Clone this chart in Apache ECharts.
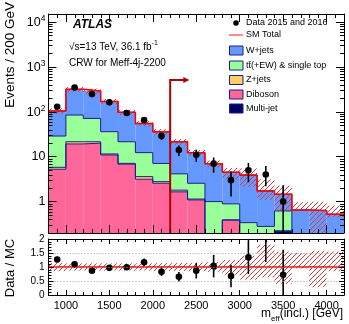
<!DOCTYPE html>
<html><head><meta charset="utf-8">
<script src="https://cdn.jsdelivr.net/npm/echarts@6/dist/echarts.min.js"></script>
<style>html,body{margin:0;padding:0;background:#fff}#c{width:349px;height:324px}</style>
</head><body><div id="c"></div>
<script>
// ---------------- data ----------------
const binLow   = [800,1000,1200,1400,1600,1800,2000,2200,2400,2600,2800,3000,3200,3400,3600,3800,4000];
const binWidth = 200;
const multijet = [0,0,0,0,0,0,0,0,0,0,0,0,0,0.22,0,0,0];
const diboson  = [5.25,19.2,20,10.9,6.8,3.15,2.56,1.65,1.09,0,0.39,0,0,0,0,0,0];
const zjets    = [0.55,2.3,1.5,0.6,0.3,0.45,0.22,0.15,0.05,0,0,0,0,0,0,0,0];
const ttbar    = [23.0,63,49.5,24.5,14.4,8.7,4.3,2.35,1.42,1.0,0.5,0.34,0.28,0.40,0,0,0];
const wjets    = [75.2,230.5,219,134,75.5,42.7,28.9,17.35,9.74,6.0,3.61,3.56,1.45,0.84,0.65,0.63,0.525];
const bandLo   = [0.85,0.87,0.87,0.87,0.87,0.87,0.86,0.86,0.85,0.83,0.72,0.55,0.63,0.40,0.95,0.28,0.85];
const bandHi   = [1.15,1.13,1.13,1.13,1.13,1.13,1.14,1.14,1.15,1.17,1.25,1.40,1.80,1.55,1.50,1.58,1.55];
const dataX     = [900,1100,1300,1500,1700,1900,2100,2300,2500,2700,2900,3100,3300,3500];
const dataY     = [129,348,247,162,94,65,29,14,11,7,3,5,4,1];
const dataErrUp = [11,19,16,13,10,8,5.4,3.7,3.3,2.6,1.7,2.3,2.2,1.3];
const dataErrDn = [11,19,16,13,10,8,5.4,3.7,3.3,2.6,1.7,2.3,1.8,0.9];
const ratioY    = [1.27,1.10,0.87,0.97,0.99,1.17,0.83,0.65,0.87,1.03,0.68,1.35,2.35,0.72];
const ratioErr  = [0.10,0.06,0.05,0.06,0.08,0.13,0.15,0.17,0.28,0.40,0.40,0.60,1.17,0.90];
const yMainTicks      = [1,10,100,1000,10000];
const yMainTickLabels = ['1','10','10^2','10^3','10^4'];
const cutValue = 2200, arrowTop = 506, arrowEnd = 2420;
const legendNames = ['Data 2015 and 2016','SM Total','W+jets','tt\u0304(+EW) & single top','Z+jets','Diboson','Multi-jet'];

// ---------------- setup ----------------
const FONT = '"Liberation Sans", Arial, Helvetica, sans-serif';
const YMIN = 0.2, YMAX = 15000;
const comps  = [multijet, diboson, zjets, ttbar, wjets];
const colors = ['#000066','#ff6699','#ffcc66','#99ff99','#6699ff'];
const OUTLINE = '#1c1c8c';
const HATCH_COL = '#d23c3c';

const cum = []; let run = binLow.map(()=>0);
comps.forEach(c => { const lo = run.slice(); run = run.map((v,i)=>v+c[i]); cum.push({lo, hi: run.slice()}); });
const total = run;

function hatchLines(x0,y0,w,h){
  const s=5, ch=[];
  const start=Math.ceil((x0+y0)/s)*s;
  for(let c=start;c<=x0+w+y0+h;c+=s){
    const xa=Math.max(x0,c-y0-h), xb=Math.min(x0+w,c-y0);
    if(xb>xa) ch.push({type:'line',shape:{x1:xa,y1:c-xa,x2:xb,y2:c-xb},style:{stroke:HATCH_COL,lineWidth:1}});
  }
  return {type:'group',children:ch};
}

function stepData(vals, floor){
  const d=[]; vals.forEach((v,i)=>{ const y=Math.max(v,floor); d.push([binLow[i],y],[binLow[i]+binWidth,y]); }); return d;
}

const series = [];
comps.forEach((c,k)=>{
  series.push({type:'custom', xAxisIndex:0, yAxisIndex:0, z:2, silent:true,
    data: binLow.map((x,i)=>[x, Math.max(cum[k].lo[i],0.01), Math.max(cum[k].hi[i],0.01)]),
    renderItem:(p,api)=>{
      const x=api.value(0), lo=api.value(1), hi=api.value(2);
      if(!(hi>lo) || hi<=YMIN) return null;
      const a=api.coord([x,Math.max(lo,YMIN)]), b=api.coord([x+binWidth,hi]);
      return {type:'rect', shape:{x:a[0],y:b[1],width:b[0]-a[0],height:a[1]-b[1]}, style:{fill:colors[k]}};
    }});
});
comps.forEach((c,k)=>{
  series.push({type:'line', xAxisIndex:0, yAxisIndex:0, z:3, silent:true, symbol:'none', clip:true,
    data: stepData(cum[k].hi, 0.05), lineStyle:{color: k===0?'#000066':OUTLINE, width:1}});
});
series.push({type:'custom', xAxisIndex:0, yAxisIndex:0, z:4, silent:true,
  data: binLow.map((x,i)=>[x, total[i]*bandLo[i], total[i]*bandHi[i]]),
  renderItem:(p,api)=>{
    const x=api.value(0), lo=api.value(1), hi=api.value(2);
    const a=api.coord([x,Math.max(lo,YMIN)]), b=api.coord([x+binWidth,hi]);
    return hatchLines(a[0],b[1],b[0]-a[0],a[1]-b[1]);
  }});
series.push({type:'line', xAxisIndex:0, yAxisIndex:0, z:5, silent:true, symbol:'none',
  data: stepData(total, 0.05), lineStyle:{color:'#ff0000', width:1.5}});
series.push({type:'custom', xAxisIndex:0, yAxisIndex:0, z:6, silent:true,
  data:[[cutValue, arrowTop, arrowEnd]],
  renderItem:(p,api)=>{
    const c=p.coordSys;
    const top=api.coord([api.value(0),api.value(1)]), end=api.coord([api.value(2),api.value(1)]);
    const bot=c.y+c.height;
    return {type:'group',children:[
      {type:'polyline',shape:{points:[[top[0],bot],[top[0],top[1]],[end[0]-4,top[1]]]},style:{stroke:'#b00000',lineWidth:2,fill:null}},
      {type:'polygon',shape:{points:[[end[0]-6,top[1]-3],[end[0],top[1]],[end[0]-6,top[1]+3]]},style:{fill:'#b00000'}}
    ]};
  }});
series.push({type:'custom', xAxisIndex:0, yAxisIndex:0, z:7, silent:true,
  data: dataX.map((x,i)=>[x,dataY[i],dataErrUp[i],dataErrDn[i]]),
  renderItem:(p,api)=>{
    const c=p.coordSys; const x=api.value(0),y=api.value(1),eu=api.value(2),ed=api.value(3);
    const pc=api.coord([x,y]); const top=api.coord([x,y+eu])[1];
    const bot=(y-ed>YMIN)?api.coord([x,y-ed])[1]:c.y+c.height;
    return {type:'group',children:[
      {type:'line',shape:{x1:pc[0],y1:top,x2:pc[0],y2:bot},style:{stroke:'#000',lineWidth:1.6}},
      {type:'circle',shape:{cx:pc[0],cy:pc[1],r:3.3},style:{fill:'#000'}}]};
  }});
const logMinor=[]; for(let e=-1;e<=4;e++) for(let m=2;m<=9;m++){const v=m*Math.pow(10,e); if(v>YMIN*1.001&&v<YMAX) logMinor.push([800,v]);}
series.push({type:'custom', xAxisIndex:0, yAxisIndex:0, z:20, silent:true, data:logMinor,
  renderItem:(p,api)=>{const c=p.coordSys; const y=Math.round(api.coord([800,api.value(1)])[1])+0.5;
    return {type:'group',children:[
      {type:'line',shape:{x1:c.x,y1:y,x2:c.x+4,y2:y},style:{stroke:'#000',lineWidth:1}},
      {type:'line',shape:{x1:c.x+c.width-4,y1:y,x2:c.x+c.width,y2:y},style:{stroke:'#000',lineWidth:1}}]};}});
const xMinor=[]; for(let x=900;x<4200;x+=100){ if(x%500!==0) xMinor.push(x); }
[[0,0,1,4],[2,2,1,3]].forEach(([xi,yi,yref,len])=>{
  series.push({type:'custom', xAxisIndex:xi, yAxisIndex:yi, z:20, silent:true, data:xMinor.map(x=>[x,yref]),
    renderItem:(p,api)=>{const c=p.coordSys; const x=Math.round(api.coord([api.value(0),api.value(1)])[0])+0.5;
      return {type:'group',children:[
        {type:'line',shape:{x1:x,y1:c.y+c.height,x2:x,y2:c.y+c.height-len},style:{stroke:'#000',lineWidth:1}},
        {type:'line',shape:{x1:x,y1:c.y,x2:x,y2:c.y+len},style:{stroke:'#000',lineWidth:1}}]};}});
});
series.push({type:'custom', xAxisIndex:2, yAxisIndex:2, z:3, silent:true,
  data: binLow.map((x,i)=>[x,bandLo[i],bandHi[i]]),
  renderItem:(p,api)=>{const x=api.value(0);
    const a=api.coord([x,Math.max(api.value(1),0)]), b=api.coord([x+binWidth,Math.min(api.value(2),2)]);
    return hatchLines(a[0],b[1],b[0]-a[0],a[1]-b[1]);}});
series.push({type:'line', xAxisIndex:2, yAxisIndex:2, z:4, silent:true, symbol:'none',
  data:[[800,1],[4200,1]], lineStyle:{color:'#ff0000',width:1.5}});
series.push({type:'custom', xAxisIndex:2, yAxisIndex:2, z:6, silent:true,
  data: dataX.map((x,i)=>[x,ratioY[i],ratioErr[i]]),
  renderItem:(p,api)=>{const c=p.coordSys; const x=api.value(0),y=api.value(1),e=api.value(2);
    const clamp=v=>Math.max(c.y,Math.min(c.y+c.height,v));
    const pc=api.coord([x,y]); const t=clamp(api.coord([x,y+e])[1]), b=clamp(api.coord([x,y-e])[1]);
    const ch=[{type:'line',shape:{x1:pc[0],y1:t,x2:pc[0],y2:b},style:{stroke:'#000',lineWidth:1.6}}];
    if(pc[1]>=c.y && pc[1]<=c.y+c.height) ch.push({type:'circle',shape:{cx:pc[0],cy:pc[1],r:3.3},style:{fill:'#000'}});
    return {type:'group',children:ch};}});

const axisBase = {axisLine:{show:true,onZero:false,lineStyle:{color:'#000',width:1}}, z:10, splitLine:{show:false}};
function xAx(grid,pos,labels,tickLen){
  return Object.assign({}, axisBase, {type:'value', gridIndex:grid, position:pos, min:800, max:4200,
    axisTick:{show:true,inside:true,length:tickLen,lineStyle:{color:'#000'}},
    axisLabel:{show:labels, interval:0, showMinLabel:false, showMaxLabel:false, color:'#000', fontFamily:FONT, fontSize:11, margin:5,
      formatter:v=>String(v)}});
}
function yMainFmt(v){
  const e=Math.log10(v); const i=yMainTicks.findIndex(t=>Math.abs(Math.log10(t)-e)<1e-6);
  if(i<0) return ''; const s=yMainTickLabels[i];
  if(s.indexOf('^')>=0){const [b,x]=s.split('^'); return '{b|'+b+'}{s|'+x+'}';}
  return '{b|'+s+'}';
}
function yMain(pos,labels){
  return Object.assign({}, axisBase, {type:'log', logBase:10, gridIndex:0, position:pos, min:YMIN, max:YMAX,
    axisTick:{show:true,inside:true,length:8,lineStyle:{color:'#000'}}, minorTick:{show:false},
    axisLabel:{show:labels, interval:0, showMinLabel:false, showMaxLabel:false, formatter:yMainFmt, margin:3,
      rich:{b:{fontFamily:FONT,fontSize:12.5,color:'#000',verticalAlign:'bottom'},
            s:{fontFamily:FONT,fontSize:8.5,color:'#000',verticalAlign:'bottom',padding:[0,0,6,0]}}}});
}
function yRatio(pos,labels){
  return Object.assign({}, axisBase, {type:'value', gridIndex:1, position:pos, min:0, max:2, interval:0.5,
    axisTick:{show:true,inside:true,length:5,lineStyle:{color:'#000'}},
    minorTick:{show:true,splitNumber:5,length:3,lineStyle:{color:'#000'}},
    splitLine:{show:labels, lineStyle:{color:'#999',type:[1,2],width:1}},
    axisLabel:{show:labels, interval:0, color:'#000', fontFamily:FONT, fontSize:10, margin:4,
      formatter:v=>String(v)}});
}

const legendY=[23,35,50.5,65.5,80,94.5,108.5];
const graphic=[
  {type:'text', x:10, y:2, rotation:Math.PI/2, style:{text:'Events / 200 GeV', font:'13.5px '+FONT, fill:'#000', align:'right', verticalAlign:'middle'}},
  {type:'text', x:10, y:268, rotation:Math.PI/2, style:{text:'Data / MC', font:'13px '+FONT, fill:'#000', align:'center', verticalAlign:'middle'}},
  {type:'text', x:343, y:314, style:{text:'{a|m}{e|eff}{a|(incl.) [GeV]}', align:'right', verticalAlign:'middle',
     rich:{a:{font:'12px '+FONT,fill:'#000',verticalAlign:'bottom'}, e:{font:'8px '+FONT,fill:'#000',verticalAlign:'bottom',padding:[0,0,-3,0]}}}},
  {type:'text', x:73, y:25, style:{text:'ATLAS', font:'italic bold 12px '+FONT, fill:'#000', align:'left', verticalAlign:'middle'}},
  {type:'text', x:69, y:46, style:{text:'{a|\u221As=13 TeV, 36.1 fb}{s|-1}', align:'left', verticalAlign:'middle',
     rich:{a:{font:'10px '+FONT,fill:'#000',verticalAlign:'bottom'}, s:{font:'7px '+FONT,fill:'#000',verticalAlign:'bottom',padding:[0,0,5,0]}}}},
  {type:'text', x:69, y:63, style:{text:'CRW for Meff-4j-2200', font:'10px '+FONT, fill:'#000', align:'left', verticalAlign:'middle'}},
  {type:'circle', shape:{cx:236, cy:legendY[0], r:2.8}, style:{fill:'#000'}},
  {type:'line', shape:{x1:229, y1:legendY[1], x2:243, y2:legendY[1]}, style:{stroke:'#ff6666', lineWidth:1.5}},
];
const boxColors=['#6699ff','#99ff99','#ffcc66','#ff6699','#000066'];
boxColors.forEach((col,i)=>{
  graphic.push({type:'rect', shape:{x:229.5, y:legendY[i+2]-4.5, width:13.5, height:9}, style:{fill:col, stroke:'#1c1c8c', lineWidth:1}});
});
legendNames.forEach((n,i)=>{
  graphic.push({type:'text', x:246, y:legendY[i], style:{text:n, font:'9px '+FONT, fill:'#000', align:'left', verticalAlign:'middle'}});
});

const option = {
  animation:false, backgroundColor:'#fff', textStyle:{fontFamily:FONT},
  grid:[{left:48.5, width:295.5, top:14, height:219, containLabel:false},
        {left:48.5, width:295.5, top:239, height:56, containLabel:false}],
  xAxis:[xAx(0,'bottom',false,8), xAx(0,'top',false,8), xAx(1,'bottom',true,5), xAx(1,'top',false,5)],
  yAxis:[yMain('left',true), yMain('right',false), yRatio('left',true), yRatio('right',false)],
  series, graphic
};
const chart = echarts.init(document.getElementById('c'), null, {renderer:'canvas', width:349, height:324});
chart.setOption(option);
</script></body></html>
